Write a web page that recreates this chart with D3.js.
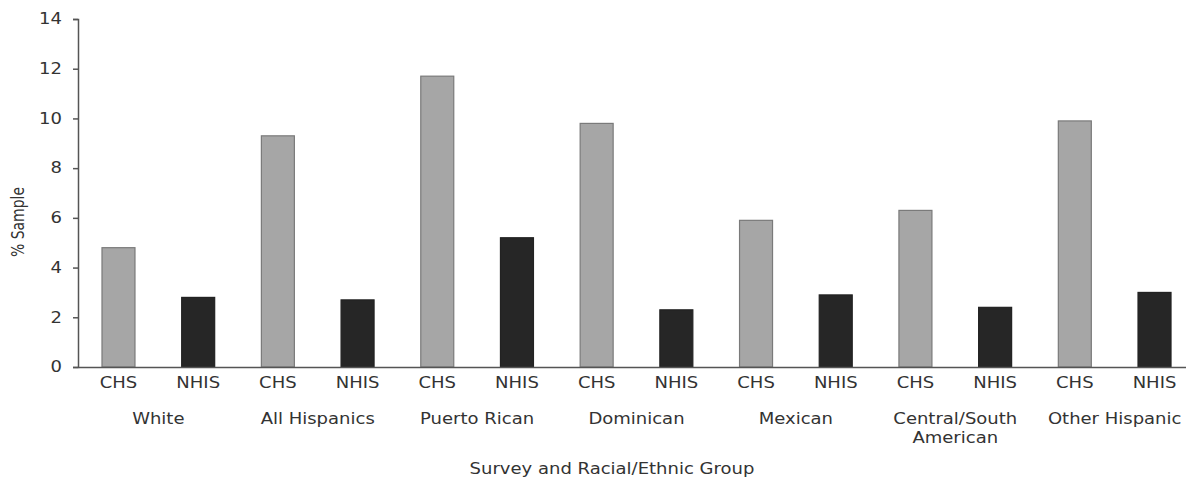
<!DOCTYPE html>
<html><head><meta charset="utf-8">
<script src="https://cdn.jsdelivr.net/npm/d3@7"></script>
<style>body{margin:0;background:#fff}svg{display:block}text{font-family:"DejaVu Sans",Verdana,sans-serif;fill:#333}</style>
</head><body><svg id="c" width="1186" height="481"></svg>
<script>
const groups = ["White","All Hispanics","Puerto Rican","Dominican","Mexican","Central/South American","Other Hispanic"];
const groupLines = [["White"],["All Hispanics"],["Puerto Rican"],["Dominican"],["Mexican"],["Central/South","American"],["Other Hispanic"]];
const surveys = ["CHS","NHIS"];
const chsValues = [4.8,9.3,11.7,9.8,5.9,6.3,9.9];
const nhisValues = [2.8,2.7,5.2,2.3,2.9,2.4,3.0];
const yTicks = [0,2,4,6,8,10,12,14];
const colors = {CHS:"#a6a6a6", NHIS:"#262626"};
const strokes = {CHS:"#7a7a7a", NHIS:"#222"};
const K = 1.2; // horizontal text stretch

function stretch(sel){
  sel.each(function(){
    const n = this;
    const tsp = n.querySelectorAll("tspan");
    const leaves = tsp.length ? Array.from(tsp) : [n];
    leaves.forEach(el=>{
      const L = el.getComputedTextLength();
      el.setAttribute("textLength", L*K);
      el.setAttribute("lengthAdjust","spacingAndGlyphs");
    });
  });
}

const svg = d3.select("#c");
const rows = [];
groups.forEach((g,i)=>{
  rows.push({key:g+"|CHS", group:i, survey:"CHS", v:chsValues[i]});
  rows.push({key:g+"|NHIS", group:i, survey:"NHIS", v:nhisValues[i]});
});
const x = d3.scaleBand().domain(rows.map(d=>d.key)).range([78, 1195]).paddingInner(0.586).paddingOuter(0.301);
const y = d3.scaleLinear().domain([0,14]).range([367, 19]);

svg.selectAll("rect.bar").data(rows).join("rect").attr("class","bar")
  .attr("x",d=>x(d.key)).attr("width",x.bandwidth())
  .attr("y",d=>y(d.v)).attr("height",d=>y(0)-y(d.v))
  .attr("fill",d=>colors[d.survey]).attr("stroke",d=>strokes[d.survey]).attr("stroke-width",1.2);

const ya = svg.append("g").attr("transform",`translate(78,0)`)
  .call(d3.axisLeft(y).tickValues(yTicks).tickSize(5).tickPadding(11));
ya.select(".domain").attr("stroke","#555").attr("stroke-width",1.5);
ya.selectAll(".tick line").attr("stroke","#555").attr("stroke-width",1.5);
ya.selectAll("text").style("font-size","15px").attr("fill","#333").call(stretch);

const xa = svg.append("g").attr("transform",`translate(0,${y(0)})`)
  .call(d3.axisBottom(x).tickSize(0).tickPadding(10).tickFormat(k=>k.split("|")[1]));
xa.select(".domain").attr("stroke","#555").attr("stroke-width",1.5);
xa.selectAll("text").style("font-size","15px").attr("fill","#333").call(stretch);

groupLines.forEach((lines,i)=>{
  const cx = (x(groups[i]+"|CHS") + x(groups[i]+"|NHIS") + x.bandwidth())/2;
  const t = svg.append("text").attr("x",cx).attr("y",y(0)+57).attr("text-anchor","middle").style("font-size","15px");
  lines.forEach((l,j)=>t.append("tspan").attr("x",cx).attr("dy",j?19:0).text(l));
  stretch(t);
});

svg.append("text").attr("x",612).attr("y",474).attr("text-anchor","middle").style("font-size","15px")
  .text("Survey and Racial/Ethnic Group").call(stretch);
svg.append("text").attr("transform",`translate(24,222) rotate(-90) scale(1,1.25)`).attr("text-anchor","middle").style("font-size","14px")
  .text("% Sample");
</script></body></html>
